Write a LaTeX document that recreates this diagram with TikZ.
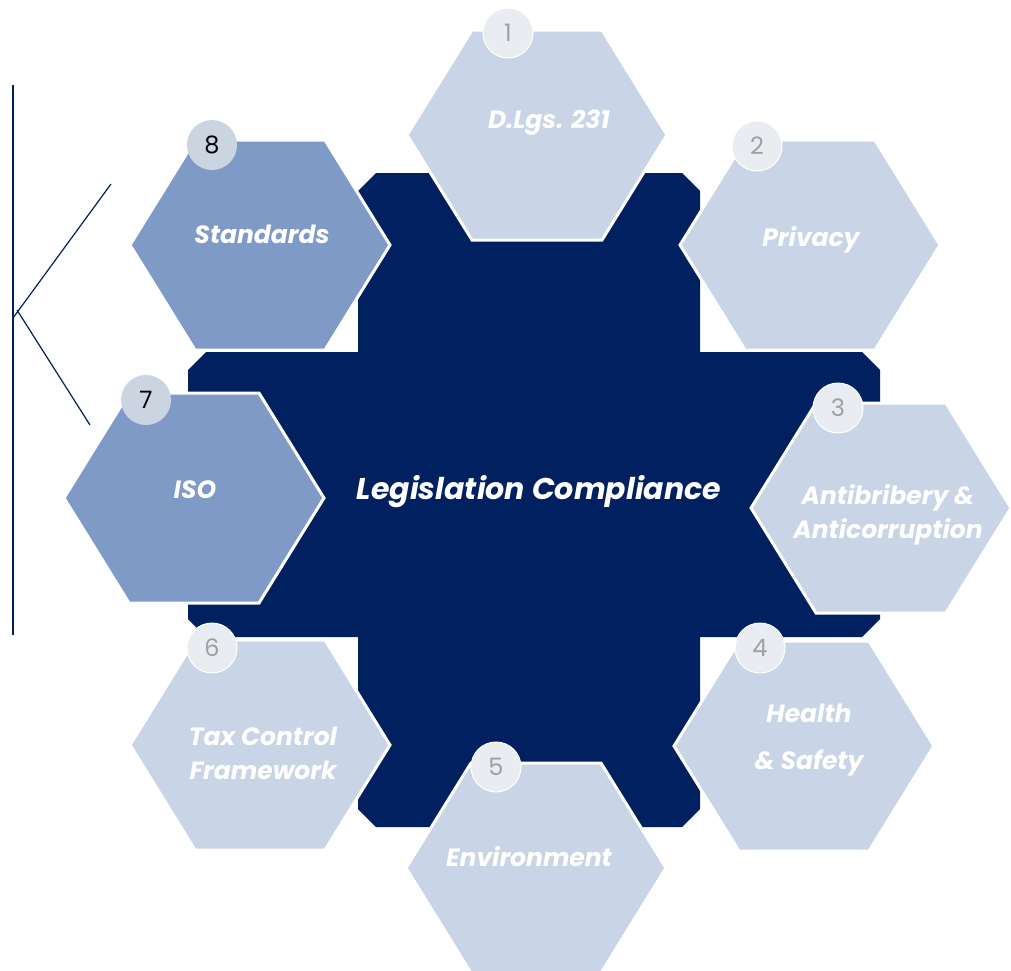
\documentclass[tikz,border=0pt]{standalone}
\usepackage{fontspec}
\setmainfont{Poppins}

\definecolor{navy}{HTML}{002060}
\definecolor{hexlight}{HTML}{C9D4E6}
\definecolor{hexmid}{HTML}{7F9AC7}
\definecolor{numdark}{HTML}{CBD5E2}
\definecolor{numpale}{HTML}{E9EDF2}
\definecolor{numtext}{HTML}{A0A0A0}

\tikzset{
	hexl/.style={fill=hexlight, draw=white, line width=3pt},
	hexm/.style={fill=hexmid, draw=white, line width=3pt},
	hextext/.style={text=white, align=center, font=\fontsize{25}{34}\selectfont\bfseries\itshape},
	badgedark/.style={circle, fill=numdark, minimum size=50pt, inner sep=0pt, font=\fontsize{24}{24}\selectfont},
	badgepale/.style={circle, fill=numpale, draw=white, line width=1pt, minimum size=50pt, inner sep=0pt, text=numtext, font=\fontsize{24}{24}\selectfont}
}

\begin{document}
\begin{tikzpicture}[x=1pt,y=-1pt]
		\clip (0,0) rectangle (1011,970);
		\fill[white] (0,0) rectangle (1011,970);

		% Left bracket
		\coordinate (vtop) at (13,85);
		\coordinate (vbot) at (13,635);
		\coordinate (kupstart) at (13,318);
		\coordinate (kupend) at (111,184);
		\coordinate (kdownstart) at (17,310);
		\coordinate (kdownend) at (90,425);
		\draw[navy, line width=1.5pt] (vtop) -- (vbot);
		\draw[navy, line width=1.2pt] (kupstart) -- (kupend);
		\draw[navy, line width=1.2pt] (kdownstart) -- (kdownend);

		% Centre
		\fill[navy] (376,173) -- (682,173) -- (700,191) -- (700,352) -- (862,352) -- (880,370) -- (880,619) -- (862,637) -- (700,637) -- (700,809) -- (682,827) -- (376,827) -- (358,809) -- (358,637) -- (206,637) -- (188,619) -- (188,370) -- (206,352) -- (358,352) -- (358,191) -- cycle;
		\node[hextext, font=\fontsize{30}{34}\selectfont\bfseries\itshape] (centre) at (539,492) {Legislation Compliance};

		% 1 D.Lgs. 231
		\filldraw[hexl] (407,135) -- (472,30) -- (602,30) -- (667,135) -- (602,240) -- (472,240) -- cycle;
		\node[hextext] (dlgs) at (549,123) {D.Lgs. 231};
		\node[badgepale] (n1) at (508,33) {1};

		% 2 Privacy
		\filldraw[hexl] (680,245) -- (745,140) -- (875,140) -- (940,245) -- (875,350) -- (745,350) -- cycle;
		\node[hextext] (privacy) at (811,240) {Privacy};
		\node[badgepale] (n2) at (757,146) {2};

		% 3 Antibribery
		\filldraw[hexl] (751,508) -- (816,403) -- (946,403) -- (1011,508) -- (946,613) -- (816,613) -- cycle;
		\node[hextext] (antibribery) at (888,515) {Antibribery \&\\Anticorruption};
		\node[badgepale] (n3) at (838,408) {3};

		% 4 Health & Safety
		\filldraw[hexl] (674,746) -- (739,641) -- (869,641) -- (934,746) -- (869,851) -- (739,851) -- cycle;
		\node[hextext, font=\fontsize{25}{47}\selectfont\bfseries\itshape] (health) at (809,740) {Health\\\& Safety};
		\node[badgepale] (n4) at (760,648) {4};

		% 5 Environment
		\filldraw[hexl] (406,868) -- (471,763) -- (601,763) -- (666,868) -- (601,973) -- (471,973) -- cycle;
		\node[hextext] (environment) at (529,857) {Environment};
		\node[badgepale] (n5) at (496,767) {5};

		% 6 Tax Control Framework
		\filldraw[hexl] (130,745) -- (195,640) -- (325,640) -- (390,745) -- (325,850) -- (195,850) -- cycle;
		\node[hextext] (taxcontrol) at (263,753) {Tax Control\\Framework};
		\node[badgepale] (n6) at (212,648) {6};

		% 7 ISO
		\filldraw[hexm] (64,498) -- (129,393) -- (259,393) -- (324,498) -- (259,603) -- (129,603) -- cycle;
		\node[hextext] (iso) at (195,490) {ISO};
		\node[badgedark] (n7) at (146,400) {7};

		% 8 Standards
		\filldraw[hexm] (130,245) -- (195,140) -- (325,140) -- (390,245) -- (325,350) -- (195,350) -- cycle;
		\node[hextext] (standards) at (262,234) {Standards};
		\node[badgedark] (n8) at (212,145) {8};
\end{tikzpicture}
\end{document}
